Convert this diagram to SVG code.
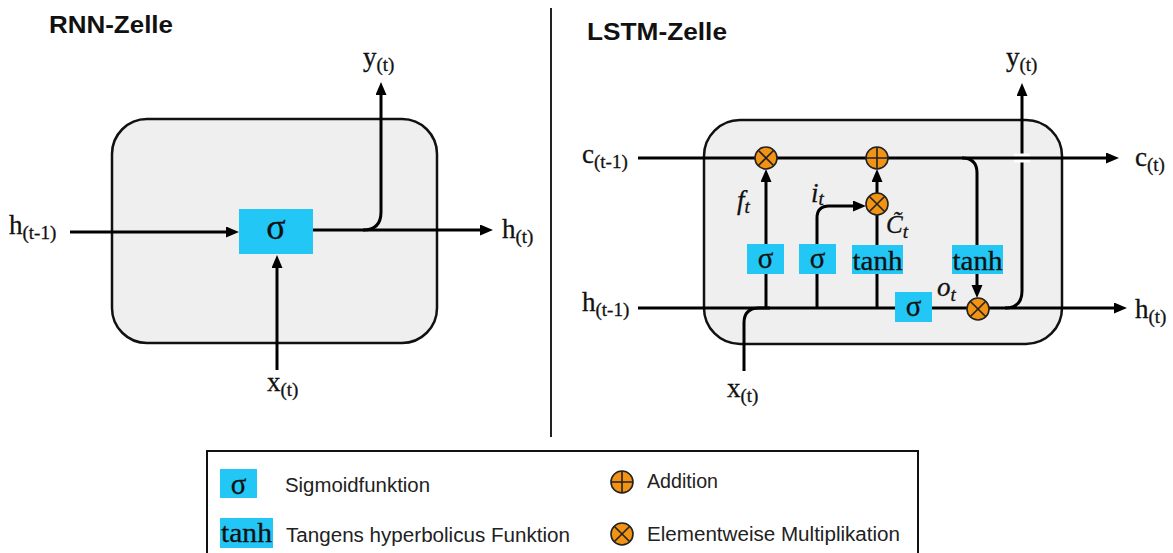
<svg xmlns="http://www.w3.org/2000/svg" width="1173" height="553" viewBox="0 0 1173 553">
<defs>
<marker id="ah" markerUnits="userSpaceOnUse" markerWidth="14" markerHeight="12" refX="3" refY="5.5" orient="auto"><path d="M0,0 L13,5.5 L0,11 z" fill="#000"/></marker>
<g id="mul"><circle r="11" class="op"/><path d="M-7.8,-7.8 L7.8,7.8 M7.8,-7.8 L-7.8,7.8" class="opl"/></g>
<g id="add"><circle r="11" class="op"/><path d="M-11,0 H11 M0,-11 V11" class="opl"/></g>
</defs>
<style>
.cell{fill:#efefef;stroke:#111;stroke-width:2.5}
.gate{fill:#22c7f6}
.w{fill:none;stroke:#000;stroke-width:3}
.a{marker-end:url(#ah)}
.op{fill:#f39314;stroke:#222;stroke-width:1.6}
.opl{fill:none;stroke:#222;stroke-width:1.6}
.t{font-family:"Liberation Serif","Times New Roman",serif;fill:#111;stroke:#111;stroke-width:0.3}
.m{font-size:27px}
.s{font-size:19px}
.g{font-family:"Liberation Serif","Times New Roman",serif;fill:#111;stroke:#111;stroke-width:0.3;text-anchor:middle}
.i{font-family:"Liberation Serif","Times New Roman",serif;font-style:italic;fill:#111;stroke:#111;stroke-width:0.3}
.title{font-family:"Liberation Sans",Arial,sans-serif;font-weight:bold;font-size:24px;fill:#111}
.lg{font-family:"Liberation Sans",Arial,sans-serif;font-size:19.5px;fill:#222}
</style>
<rect width="1173" height="553" fill="#fff"/>

<!-- RNN cell -->
<text class="title" x="49" y="33" textLength="124" lengthAdjust="spacingAndGlyphs">RNN-Zelle</text>
<g id="rnn-cell"><rect class="cell" x="112" y="119" width="325" height="224" rx="35"/></g>
<g id="rnn-connectors">
<path class="w a" d="M70,232 H229"/>
<path class="w a" d="M313,230 H483"/>
<path class="w a" d="M363,230 Q381,230 381,212 V92"/>
<path class="w a" d="M277,370 V265"/>
</g>
<g id="rnn-sigma"><rect class="gate" x="239" y="209" width="74" height="45"/><text class="g" x="276" y="239" font-size="36">σ</text></g>
<g id="rnn-labels">
<text class="t" x="9" y="234"><tspan class="m">h</tspan><tspan class="s" dy="5">(t-1)</tspan></text>
<text class="t" x="502" y="238"><tspan class="m">h</tspan><tspan class="s" dy="5">(t)</tspan></text>
<text class="t" x="363" y="66"><tspan class="m">y</tspan><tspan class="s" dy="5">(t)</tspan></text>
<text class="t" x="267" y="391"><tspan class="m">x</tspan><tspan class="s" dy="5">(t)</tspan></text>
</g>

<!-- separator -->
<line x1="551" y1="8" x2="551" y2="437" stroke="#222" stroke-width="2"/>

<!-- LSTM cell -->
<text class="title" x="587" y="40" textLength="140" lengthAdjust="spacingAndGlyphs">LSTM-Zelle</text>
<g id="lstm-cell"><rect class="cell" x="704" y="120" width="358" height="224" rx="36"/></g>
<g id="lstm-connectors">
<path class="w a" d="M638,308 H1117"/>
<path class="w" d="M744,371 V323 Q744,308 759,308 H770"/>
<path class="w a" d="M766,308 V179"/>
<path class="w a" d="M817,308 V218 Q817,206 829,206 H856"/>
<path class="w" d="M877,308 V215"/>
<path class="w a" d="M877,193 V179"/>
<path class="w a" d="M962,158 Q977,158 977,173 V288"/>
<path class="w a" d="M1005,308 Q1022,308 1022,291 V93"/>
<path d="M1014,158 H1030" stroke="#fff" stroke-width="9"/>
<path class="w a" d="M638,158 H1109"/>
</g>
<g id="gate-f"><rect class="gate" x="747" y="244" width="37" height="30"/><text class="g" x="765.5" y="268" font-size="29">σ</text></g>
<g id="gate-i"><rect class="gate" x="799" y="244" width="37" height="30"/><text class="g" x="817.5" y="268" font-size="29">σ</text></g>
<g id="gate-c"><rect class="gate" x="852" y="245" width="51" height="29"/><text class="g" x="877.5" y="270" font-size="27" textLength="50" lengthAdjust="spacingAndGlyphs">tanh</text></g>
<g id="tanh-out"><rect class="gate" x="952" y="245" width="51" height="29"/><text class="g" x="977.5" y="270" font-size="27" textLength="50" lengthAdjust="spacingAndGlyphs">tanh</text></g>
<g id="gate-o"><rect class="gate" x="895" y="292" width="37" height="30"/><text class="g" x="913.5" y="316" font-size="29">σ</text></g>
<g id="op-forget"><use href="#mul" x="766" y="158"/></g>
<g id="op-add"><use href="#add" x="877" y="158"/></g>
<g id="op-input"><use href="#mul" x="877" y="204"/></g>
<g id="op-output"><use href="#mul" x="978" y="309"/></g>
<g id="lstm-labels">
<text class="t" x="582" y="163"><tspan class="m">c</tspan><tspan class="s" dy="5">(t-1)</tspan></text>
<text class="t" x="1135" y="166"><tspan class="m">c</tspan><tspan class="s" dy="5">(t)</tspan></text>
<text class="t" x="1006" y="66"><tspan class="m">y</tspan><tspan class="s" dy="5">(t)</tspan></text>
<text class="t" x="582" y="311"><tspan class="m">h</tspan><tspan class="s" dy="5">(t-1)</tspan></text>
<text class="t" x="1135" y="318"><tspan class="m">h</tspan><tspan class="s" dy="5">(t)</tspan></text>
<text class="t" x="727" y="397"><tspan class="m">x</tspan><tspan class="s" dy="5">(t)</tspan></text>
<text class="i" x="737" y="209"><tspan font-size="27">f</tspan><tspan font-size="19" dy="4">t</tspan></text>
<text class="i" x="811" y="202"><tspan font-size="27">i</tspan><tspan font-size="19" dy="3">t</tspan></text>
<text class="i" x="886" y="233"><tspan font-size="25">C̃</tspan><tspan font-size="19" dy="5">t</tspan></text>
<text class="i" x="937" y="296"><tspan font-size="27">o</tspan><tspan font-size="19" dy="5">t</tspan></text>
</g>

<!-- legend -->
<g id="legend">
<rect x="207" y="451" width="711" height="120" fill="none" stroke="#111" stroke-width="2"/>
<rect class="gate" x="220" y="469" width="37" height="29"/><text class="g" x="238.5" y="494" font-size="29">σ</text>
<text class="lg" x="285" y="492" textLength="145" lengthAdjust="spacingAndGlyphs">Sigmoidfunktion</text>
<rect class="gate" x="220" y="518" width="53" height="30"/><text class="g" x="246.5" y="542" font-size="27" textLength="51" lengthAdjust="spacingAndGlyphs">tanh</text>
<text class="lg" x="286" y="542" textLength="284" lengthAdjust="spacingAndGlyphs">Tangens hyperbolicus Funktion</text>
<use href="#add" x="622" y="482"/>
<text class="lg" x="647" y="488" textLength="71" lengthAdjust="spacingAndGlyphs">Addition</text>
<use href="#mul" x="622" y="534"/>
<text class="lg" x="647" y="541" textLength="253" lengthAdjust="spacingAndGlyphs">Elementweise Multiplikation</text>
</g>
</svg>
